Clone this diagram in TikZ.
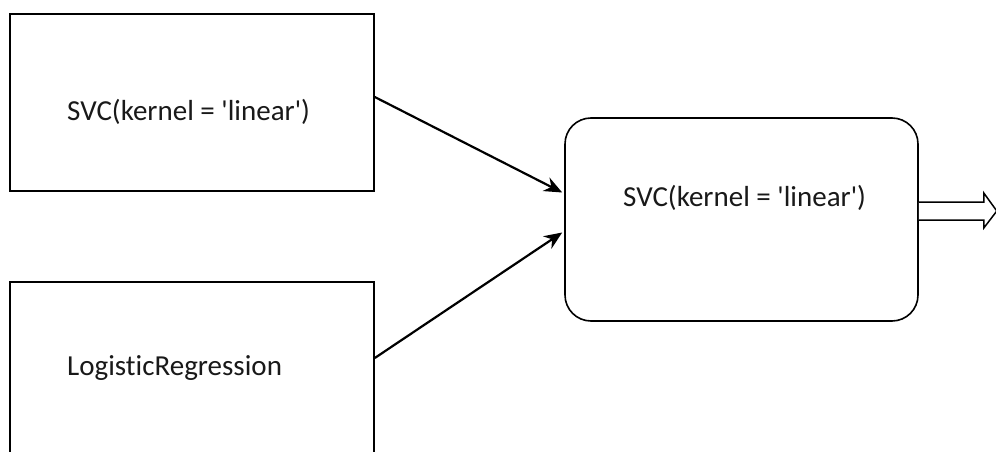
\documentclass[tikz,border=0pt]{standalone}
\usepackage{fontspec}
\setmainfont{Carlito}[Ligatures={NoCommon}]
\usetikzlibrary{arrows.meta,calc}
\begin{document}
\begin{tikzpicture}[x=1pt,y=-1pt,
  boxstyle/.style={draw=black,line width=1.6pt,fill=white,inner sep=0pt,minimum width=364pt},
  lbl/.style={font=\fontsize{29}{33}\selectfont,inner sep=0pt,anchor=west,text=black!90},
  conn/.style={line width=2.2pt,-{Stealth[length=18pt,width=15pt]}}]
\useasboundingbox (0,0) rectangle (996,452);
\clip (0,0) rectangle (996,452);
\node[boxstyle,minimum height=177pt] (b1) at (192,102.5) {};
\node[boxstyle,minimum height=190pt] (b2) at (192,377) {};
\node[boxstyle,rounded corners=26pt,minimum width=353pt,minimum height=203pt] (b3) at (741.5,219.5) {};
\node[lbl] (t1) at (67,112) {SVC(kernel = \textquotesingle linear\textquotesingle)};
\node[lbl] (t2) at (67,368) {LogisticRegression};
\node[lbl] (t3) at (623,198) {SVC(kernel = \textquotesingle linear\textquotesingle)};
\coordinate (a1s) at ($(b1.east)+(0,-5.5)$);
\coordinate (a1e) at ($(b3.west)+(-2,-27)$);
\coordinate (a2s) at ($(b2.east)+(0,-19)$);
\coordinate (a2e) at ($(b3.west)+(-2,13)$);
\draw[conn] (a1s) -- (a1e);
\draw[conn] (a2s) -- (a2e);
\coordinate (o1) at ($(b3.east)+(0,-17.5)$);
\draw[line width=1.5pt,fill=white,line join=miter]
  (o1) -- ++(65,0) -- ++(0,-9) -- ++(13,18) -- ++(-13,17) -- ++(0,-8) -- ++(-65,0);
\end{tikzpicture}
\end{document}
